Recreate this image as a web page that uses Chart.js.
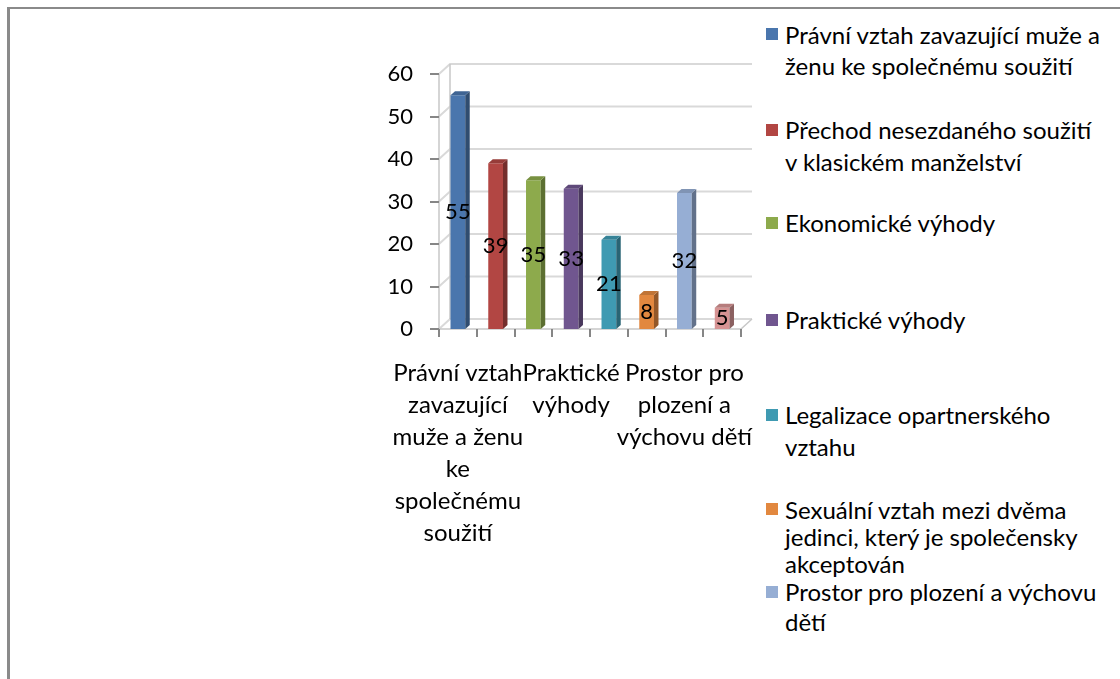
<!DOCTYPE html>
<html>
<head>
<meta charset="utf-8">
<script src="https://cdn.jsdelivr.net/npm/chart.js@4/dist/chart.umd.min.js"></script>
<style>
  html, body { margin: 0; padding: 0; background: #fff; overflow: hidden; }
  body { width: 1120px; height: 679px; position: relative; font-family: Lato, "Noto Sans", sans-serif; }
  #frame { position: absolute; left: 7px; top: 7px; right: 0; bottom: 0; border-top: 2px solid #8a8a8a; border-left: 3px solid #8a8a8a; }
  #wrap { position: absolute; left: 0; top: 0; width: 760px; height: 679px; }
  #legend { position: absolute; left: 766px; top: 0; width: 354px; height: 679px; }
  .item { position: absolute; left: 0; padding-left: 19px; font-size: 24px; color: #000; white-space: nowrap; }
  .item .sw { position: absolute; left: 0; width: 12px; height: 12px; }
</style>
</head>
<body>
<div id="frame"></div>
<div id="wrap"><canvas id="barchart"></canvas></div>
<div id="legend"></div>
<script>
/* 데이터 */
// 범례 텍스트 (줄바꿈 포함)
let legendLabels = [
  ['Právní vztah zavazující muže a', 'ženu ke společnému soužití'],
  ['Přechod nesezdaného soužití', 'v klasickém manželství'],
  ['Ekonomické výhody'],
  ['Praktické výhody'],
  ['Legalizace opartnerského', 'vztahu'],
  ['Sexuální vztah mezi dvěma', 'jedinci, který je společensky', 'akceptován'],
  ['Prostor pro plození a výchovu', 'dětí'],
  ['Jiné']
];
let categories = legendLabels.map(l => l.join(' '));
let values = [55, 39, 35, 33, 21, 8, 32, 5];
// x축 라벨 (3개마다 표시)
let xTickLabels = [
  ['Právní vztah', 'zavazující', 'muže a ženu', 'ke', 'společnému', 'soužití'],
  '', '',
  ['Praktické', 'výhody'],
  '', '',
  ['Prostor pro', 'plození a', 'výchovu dětí'],
  ''
];
let yTicks = [0, 10, 20, 30, 40, 50, 60];
let barColors = ['#4A76AD', '#B24643', '#8DAA4C', '#70568F', '#3F9AB2', '#E2883F', '#96AED4', '#D69393'];

// 범례 배치 (첫 줄 중심 y, 줄 높이)
let legendCenterY = [34, 130, 223, 320, 415, 509, 592, 690];
let legendLineH = [31, 32, 30, 30, 32, 27, 30, 30];

// 색 어둡게/밝게
function shade(hex, f) {
  let n = parseInt(hex.slice(1), 16);
  let r = (n >> 16) & 255, g = (n >> 8) & 255, b = n & 255;
  let c = v => Math.max(0, Math.min(255, Math.round(f < 0 ? v * (1 + f) : v + (255 - v) * f)));
  return 'rgb(' + c(r) + ',' + c(g) + ',' + c(b) + ')';
}

const OX = 11, OY = -10; // 3D 깊이
const FONT = 'Lato, "Noto Sans", sans-serif';

/* 뒷벽, 바닥, 눈금 */
const wallPlugin = {
  id: 'wall',
  beforeDatasetsDraw(chart) {
    const ctx = chart.ctx, y = chart.scales.y, x = chart.scales.x;
    const L = chart.chartArea.left, R = chart.chartArea.right;
    const B = y.getPixelForValue(0), T = y.getPixelForValue(60);
    ctx.save();
    // 격자선
    ctx.strokeStyle = '#D9D9D9';
    ctx.lineWidth = 2;
    yTicks.forEach(v => {
      let py = y.getPixelForValue(v);
      ctx.beginPath();
      ctx.moveTo(L, py);
      ctx.lineTo(L + OX, py + OY);
      ctx.lineTo(R + OX, py + OY);
      ctx.stroke();
    });
    // 벽 모서리, 바닥
    ctx.lineWidth = 1.5;
    ctx.strokeStyle = '#C8C8C8';
    ctx.beginPath();
    ctx.moveTo(L + OX, B + OY); ctx.lineTo(L + OX, T + OY);
    ctx.moveTo(L, B); ctx.lineTo(L, T);
    ctx.moveTo(L, B); ctx.lineTo(R, B); ctx.lineTo(R + OX, B + OY);
    ctx.stroke();
    // y 눈금
    ctx.strokeStyle = '#868686';
    ctx.lineWidth = 2;
    yTicks.forEach(v => {
      let py = Math.round(y.getPixelForValue(v));
      ctx.beginPath(); ctx.moveTo(L - 9, py); ctx.lineTo(L, py); ctx.stroke();
    });
    // x 눈금
    let w = x.getPixelForValue(1) - x.getPixelForValue(0);
    for (let i = 0; i <= values.length; i++) {
      let px = Math.round(x.getPixelForValue(0) - w / 2 + i * w);
      ctx.beginPath(); ctx.moveTo(px, B); ctx.lineTo(px, B + 8); ctx.stroke();
    }
    ctx.restore();
  },
  afterDatasetsDraw(chart) {
    const ctx = chart.ctx;
    const meta = chart.getDatasetMeta(0);
    ctx.save();
    meta.data.forEach((bar, i) => {
      let l = bar.x - bar.width / 2, r = bar.x + bar.width / 2, t = bar.y, b = bar.base;
      let d = 4.5, dy = -4;
      // 옆면
      ctx.fillStyle = shade(barColors[i], -0.35);
      ctx.beginPath();
      ctx.moveTo(r, t); ctx.lineTo(r + d, t + dy); ctx.lineTo(r + d, b + dy); ctx.lineTo(r, b);
      ctx.closePath(); ctx.fill();
      // 윗면
      ctx.fillStyle = shade(barColors[i], -0.15);
      ctx.beginPath();
      ctx.moveTo(l, t); ctx.lineTo(l + d, t + dy); ctx.lineTo(r + d, t + dy); ctx.lineTo(r, t);
      ctx.closePath(); ctx.fill();
      // 값 라벨
      ctx.fillStyle = '#000';
      ctx.font = '22px ' + FONT;
      ctx.textAlign = 'center';
      ctx.textBaseline = 'middle';
      ctx.fillText(values[i], bar.x, (t + b) / 2);
    });
    ctx.restore();
  }
};

new Chart(document.getElementById('barchart'), {
  type: 'bar',
  data: {
    labels: categories,
    datasets: [{
      data: values,
      backgroundColor: barColors,
      barPercentage: 0.39,
      categoryPercentage: 1
    }]
  },
  options: {
    responsive: true,
    maintainAspectRatio: false,
    animation: false,
    layout: { padding: { left: 379, right: 19, top: 74, bottom: 0 } },
    plugins: {
      legend: { display: false },
      tooltip: { enabled: false }
    },
    scales: {
      x: {
        grid: { display: false },
        border: { display: false },
        afterFit: s => { s.height = 350; },
        ticks: {
          autoSkip: false,
          maxRotation: 0,
          padding: 20,
          color: '#000',
          font: { family: FONT, size: 24, lineHeight: '32px' },
          callback: (v, i) => xTickLabels[i]
        }
      },
      y: {
        min: 0,
        max: 60,
        grid: { display: false },
        border: { display: false },
        afterFit: s => { s.width = 60; },
        ticks: {
          stepSize: 10,
          padding: 18,
          color: '#000',
          font: { family: FONT, size: 22 }
        }
      }
    }
  },
  plugins: [wallPlugin]
});

/* 범례 */
let legendBox = document.getElementById('legend');
legendLabels.forEach((lines, i) => {
  let lh = legendLineH[i];
  let item = document.createElement('div');
  item.className = 'item';
  item.style.top = (legendCenterY[i] - lh / 2) + 'px';
  item.style.lineHeight = lh + 'px';
  let sw = document.createElement('span');
  sw.className = 'sw';
  sw.style.top = (lh / 2 - 6) + 'px';
  sw.style.background = barColors[i];
  item.appendChild(sw);
  lines.forEach((line, k) => {
    if (k > 0) item.appendChild(document.createElement('br'));
    item.appendChild(document.createTextNode(line));
  });
  legendBox.appendChild(item);
});
</script>
</body>
</html>
